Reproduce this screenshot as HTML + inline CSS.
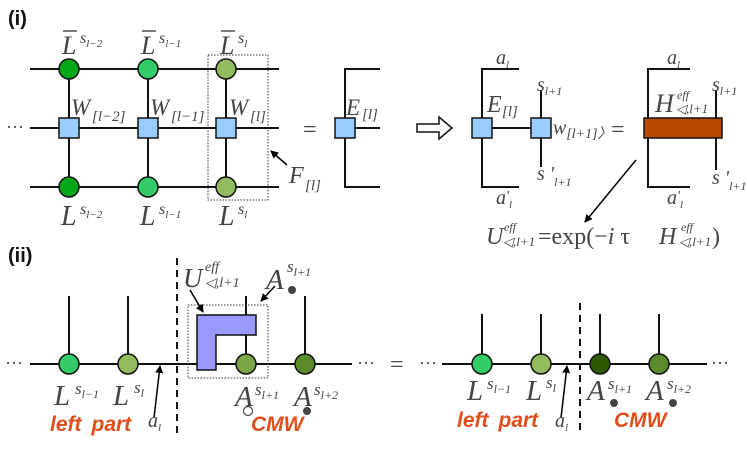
<!DOCTYPE html>
<html><head><meta charset="utf-8"><style>
body{margin:0;background:#fff}
svg{display:block}
.m{font-family:"Liberation Serif",serif;font-style:italic;fill:#444}
.r{font-family:"Liberation Serif",serif;fill:#444}
.b{font-family:"Liberation Sans",sans-serif;font-weight:bold;font-style:italic;fill:#e04e1c;font-size:21px}
</style></head><body>
<svg width="747" height="453" viewBox="0 0 747 453" xmlns="http://www.w3.org/2000/svg">
<defs><marker id="ah" markerWidth="8" markerHeight="8" refX="7" refY="4" orient="auto" markerUnits="userSpaceOnUse"><path d="M0,0 L8,4 L0,8 z" fill="#000"/></marker></defs>
<text x="8" y="25" style="font-family:'Liberation Sans',sans-serif;font-weight:bold;font-size:20px;fill:#111">(i)</text>
<g stroke="#111" stroke-width="2" fill="none">
<line x1="30" y1="69" x2="279" y2="69"/><line x1="30" y1="128" x2="279" y2="128"/><line x1="30" y1="187" x2="279" y2="187"/>
<line x1="69" y1="69" x2="69" y2="187"/><line x1="148" y1="69" x2="148" y2="187"/><line x1="226" y1="69" x2="226" y2="187"/>
</g>
<g stroke="#111" stroke-width="1.5">
<circle cx="69" cy="69" r="10" fill="#00a818"/><circle cx="148" cy="69" r="10" fill="#33cc66"/><circle cx="226" cy="69" r="10" fill="#93bb5f"/>
<circle cx="69" cy="187" r="10" fill="#00a818"/><circle cx="148" cy="187" r="10" fill="#33cc66"/><circle cx="226" cy="187" r="10" fill="#93bb5f"/>
<rect x="59" y="118" width="20" height="20" fill="#99ccff"/><rect x="138" y="118" width="20" height="20" fill="#99ccff"/><rect x="216" y="118" width="20" height="20" fill="#99ccff"/>
</g>
<rect x="208" y="55" width="60" height="145" fill="none" stroke="#333" stroke-width="1" stroke-dasharray="1.5,1.5"/>
<line x1="287" y1="165" x2="271" y2="151" stroke="#000" stroke-width="1.5" marker-end="url(#ah)"/>
<text x="6" y="133" class="r" font-size="18">···</text>
<g class="m" font-size="26">
<text x="62" y="54">L</text><text x="141" y="54">L</text><text x="220" y="54">L</text>
<text x="61" y="225" font-size="28">L</text><text x="140" y="225" font-size="28">L</text><text x="219" y="225" font-size="28">L</text>
<text x="71" y="115" font-size="23">W</text><text x="150" y="115" font-size="23">W</text><text x="229" y="115" font-size="23">W</text>
<text x="289" y="183" font-size="24">F</text><text x="346" y="115" font-size="23">E</text>
</g>
<g stroke="#444" stroke-width="1.4"><line x1="63" y1="31" x2="77" y2="31"/><line x1="142" y1="31" x2="156" y2="31"/><line x1="221" y1="31" x2="235" y2="31"/></g>
<g class="m" font-size="16">
<text x="80" y="43">s<tspan font-size="11" dy="4">l−2</tspan></text><text x="159" y="43">s<tspan font-size="11" dy="4">l−1</tspan></text><text x="238" y="43">s<tspan font-size="11" dy="4">l</tspan></text>
<text x="80" y="214">s<tspan font-size="11" dy="4">l−2</tspan></text><text x="159" y="214">s<tspan font-size="11" dy="4">l−1</tspan></text><text x="238" y="214">s<tspan font-size="11" dy="4">l</tspan></text>
<text x="92" y="121" font-size="15">[l−2]</text><text x="171" y="121" font-size="15">[l−1]</text><text x="250" y="121" font-size="15">[l]</text>
<text x="305" y="190" font-size="15">[l]</text><text x="362" y="119" font-size="15">[l]</text>
</g>
<text x="303" y="137" class="r" font-size="24">=</text>
<g stroke="#111" stroke-width="2" fill="none">
<polyline points="380,69 345,69 345,187 380,187"/><line x1="345" y1="128" x2="380" y2="128"/>
</g>
<rect x="335" y="118" width="20" height="20" fill="#99ccff" stroke="#111" stroke-width="1.5"/>
<path d="M417,124 H439 V117 L452,128 L439,139 V132 H417 Z" fill="#fff" stroke="#111" stroke-width="1.5"/>
<g stroke="#111" stroke-width="2" fill="none">
<polyline points="519,69 482,69 482,187 519,187"/><line x1="482" y1="128" x2="541" y2="128"/><line x1="541" y1="90" x2="541" y2="167"/>
<polyline points="690,69 648,69 648,187 690,187"/><line x1="716" y1="90" x2="716" y2="170"/>
</g>
<rect x="472" y="118" width="20" height="20" fill="#99ccff" stroke="#111" stroke-width="1.5"/>
<rect x="531" y="118" width="20" height="20" fill="#99ccff" stroke="#111" stroke-width="1.5"/>
<rect x="644" y="118" width="78" height="20" fill="#b84a00" stroke="#111" stroke-width="1.5"/>
<text x="611" y="137" class="r" font-size="24">=</text>
<g class="m" font-size="20">
<text x="496" y="64">a<tspan font-size="11" dy="4">l</tspan></text>
<text x="496" y="204">a<tspan font-size="14" dy="-4">'</tspan><tspan font-size="11" dy="8">l</tspan></text>
<text x="667" y="64">a<tspan font-size="11" dy="4">l</tspan></text>
<text x="667" y="204">a<tspan font-size="14" dy="-4">'</tspan><tspan font-size="11" dy="8">l</tspan></text>
<text x="537" y="91">s<tspan font-size="12" dy="4">l+1</tspan></text>
<text x="537" y="180">s<tspan> '</tspan><tspan font-size="12" dy="6">l+1</tspan></text>
<text x="712" y="91">s<tspan font-size="12" dy="4">l+1</tspan></text>
<text x="712" y="184">s<tspan> '</tspan><tspan font-size="12" dy="6">l+1</tspan></text>
<text x="487" y="112" font-size="24">E</text><text x="502" y="116" font-size="15">[l]</text>
<text x="553" y="134">w<tspan font-size="14" dy="4">[l+1]〉</tspan></text>
<text x="655" y="112" font-size="26">H</text><text x="677" y="99" font-size="12">eff</text><text x="676" y="113" font-size="13">◁,l+1</text>
</g>
<line x1="636" y1="160" x2="585" y2="222" stroke="#000" stroke-width="1.5" marker-end="url(#ah)"/>
<g class="m" font-size="24">
<text x="486" y="244">U</text><text x="504" y="231" font-size="12">eff</text><text x="503" y="246" font-size="13">◁,l+1</text>
<text x="538" y="244" class="r" font-style="normal">=exp(−<tspan font-style="italic">i</tspan> τ </text>
<text x="659" y="244">H</text><text x="681" y="231" font-size="12">eff</text><text x="679" y="246" font-size="13">◁,l+1</text>
<text x="712" y="244" class="r" font-style="normal">)</text>
</g>
<text x="8" y="262" style="font-family:'Liberation Sans',sans-serif;font-weight:bold;font-size:20px;fill:#111">(ii)</text>
<g stroke="#111" stroke-width="2" fill="none">
<line x1="30" y1="364" x2="352" y2="364"/>
<line x1="69" y1="296" x2="69" y2="364"/><line x1="128" y1="296" x2="128" y2="364"/>
<line x1="246" y1="296" x2="246" y2="364"/><line x1="305" y1="296" x2="305" y2="364"/>
<line x1="177" y1="258" x2="177" y2="433" stroke-dasharray="7,5"/>
<line x1="442" y1="364" x2="707" y2="364"/>
<line x1="482" y1="314" x2="482" y2="364"/><line x1="541" y1="314" x2="541" y2="364"/><line x1="600" y1="314" x2="600" y2="364"/><line x1="659" y1="314" x2="659" y2="364"/>
<line x1="580" y1="303" x2="580" y2="433" stroke-dasharray="7,5"/>
</g>
<rect x="188" y="305" width="80" height="73" fill="none" stroke="#333" stroke-width="1" stroke-dasharray="1.5,1.5"/>
<polygon points="197,315 256,315 256,335 216,335 216,370 197,370" fill="#9999ff" stroke="#111" stroke-width="1.5"/>
<g stroke="#111" stroke-width="1.5">
<circle cx="69" cy="364" r="10" fill="#33cc66"/><circle cx="128" cy="364" r="10" fill="#93bb5f"/>
<circle cx="246" cy="364" r="10" fill="#7aa846"/><circle cx="305" cy="364" r="10" fill="#5a8a2a"/>
<circle cx="482" cy="364" r="10" fill="#33cc66"/><circle cx="541" cy="364" r="10" fill="#93bb5f"/>
<circle cx="600" cy="364" r="10" fill="#2d5a00"/><circle cx="659" cy="364" r="10" fill="#5a8a2a"/>
</g>
<g stroke="#000" stroke-width="1.5">
<line x1="190" y1="290" x2="203" y2="312" marker-end="url(#ah)"/>
<line x1="275" y1="286" x2="261" y2="301" marker-end="url(#ah)"/>
<line x1="154" y1="418" x2="160" y2="366" marker-end="url(#ah)"/>
<line x1="561" y1="418" x2="567" y2="366" marker-end="url(#ah)"/>
</g>
<g class="r" font-size="18"><text x="5" y="369">···</text><text x="357" y="369">···</text><text x="419" y="369">···</text><text x="711" y="369">···</text></g>
<text x="390" y="372" class="r" font-size="24">=</text>
<g class="m" font-size="29">
<text x="54" y="405">L</text><text x="113" y="405">L</text><text x="235" y="406">A</text><text x="294" y="406">A</text>
<text x="467" y="400">L</text><text x="526" y="400">L</text><text x="587" y="400">A</text><text x="646" y="400">A</text>
<text x="183" y="287" font-size="27">U</text><text x="266" y="289">A</text>
</g>
<g class="m" font-size="17">
<text x="75" y="394">s<tspan font-size="12" dy="4">l−1</tspan></text><text x="134" y="393">s<tspan font-size="12" dy="4">l</tspan></text>
<text x="255" y="395">s<tspan font-size="12" dy="4">l+1</tspan></text><text x="314" y="395">s<tspan font-size="12" dy="4">l+2</tspan></text>
<text x="487" y="389">s<tspan font-size="12" dy="4">l−1</tspan></text><text x="546" y="388">s<tspan font-size="12" dy="4">l</tspan></text>
<text x="608" y="389">s<tspan font-size="12" dy="4">l+1</tspan></text><text x="667" y="389">s<tspan font-size="12" dy="4">l+2</tspan></text>
<text x="287" y="272">s<tspan font-size="12" dy="4">l+1</tspan></text>
<text x="205" y="271" font-size="14">eff</text><text x="205" y="287" font-size="14">◁,l+1</text>
<text x="148" y="427" font-size="20">a<tspan font-size="11" dy="4">l</tspan></text>
<text x="555" y="427" font-size="20">a<tspan font-size="11" dy="4">l</tspan></text>
</g>
<circle cx="248" cy="411" r="4.5" fill="#fff" stroke="#444" stroke-width="1.2"/>
<circle cx="307" cy="411" r="4" fill="#444"/><circle cx="292" cy="290" r="4" fill="#444"/>
<circle cx="614" cy="403" r="4" fill="#444"/><circle cx="673" cy="403" r="4" fill="#444"/>
<text x="50" y="431" class="b">left<tspan dx="10">part</tspan></text><text x="251" y="431" class="b">CMW</text>
<text x="457" y="427" class="b">left<tspan dx="10">part</tspan></text><text x="614" y="427" class="b">CMW</text>
</svg>
</body></html>
